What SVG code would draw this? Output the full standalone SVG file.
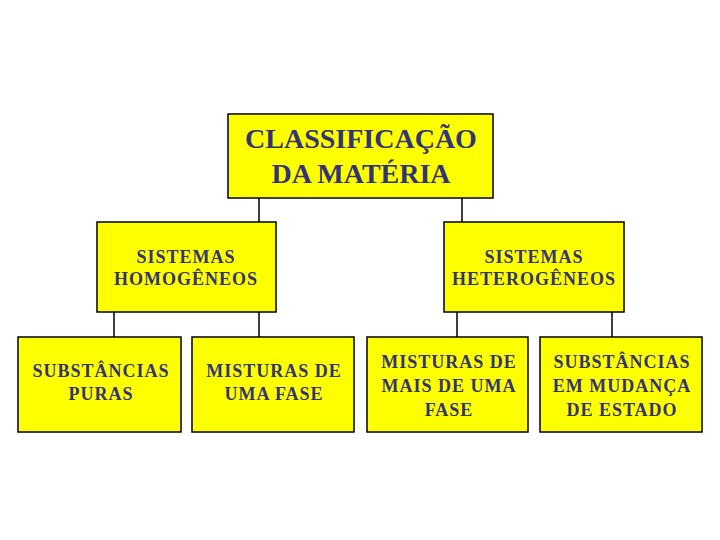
<svg xmlns="http://www.w3.org/2000/svg" width="720" height="540" viewBox="0 0 720 540">
<style>
.box{fill:#ffff00;stroke:#000;stroke-width:1.5}
.t{font-family:"Liberation Serif","Times New Roman",serif;font-weight:bold;fill:#333377;text-anchor:middle}
.big{font-size:28px}
.sm{font-size:18px;letter-spacing:1px}
.c{stroke:#000;stroke-width:1.5;fill:none}
</style>
<rect width="720" height="540" fill="#fff"/>
<g id="connectors">
<path class="c" d="M259 198V222M462 198V222M114 312V337M259 312V337M457 312V337M612 312V337"/>
</g>
<g id="n-root">
<rect class="box" x="228" y="114" width="265" height="84"/>
<text class="t big" x="361" y="148">CLASSIFICAÇÃO</text>
<text class="t big" x="361" y="183">DA MATÉRIA</text>
</g>
<g id="n-homog">
<rect class="box" x="97" y="222" width="179" height="90"/>
<text class="t sm" x="186" y="263">SISTEMAS</text>
<text class="t sm" x="186" y="285">HOMOGÊNEOS</text>
</g>
<g id="n-heterog">
<rect class="box" x="444" y="222" width="180" height="90"/>
<text class="t sm" x="534" y="263">SISTEMAS</text>
<text class="t sm" x="534" y="285">HETEROGÊNEOS</text>
</g>
<g id="n-puras">
<rect class="box" x="18" y="337" width="163" height="95"/>
<text class="t sm" x="101" y="377">SUBSTÂNCIAS</text>
<text class="t sm" x="101" y="400">PURAS</text>
</g>
<g id="n-uma">
<rect class="box" x="192" y="337" width="162" height="95"/>
<text class="t sm" x="274" y="377">MISTURAS DE</text>
<text class="t sm" x="274" y="400">UMA FASE</text>
</g>
<g id="n-mais">
<rect class="box" x="367" y="337" width="161" height="95"/>
<text class="t sm" x="449" y="368">MISTURAS DE</text>
<text class="t sm" x="449" y="392">MAIS DE UMA</text>
<text class="t sm" x="449" y="416">FASE</text>
</g>
<g id="n-mudanca">
<rect class="box" x="540" y="337" width="162" height="95"/>
<text class="t sm" x="622" y="368">SUBSTÂNCIAS</text>
<text class="t sm" x="622" y="392">EM MUDANÇA</text>
<text class="t sm" x="622" y="416">DE ESTADO</text>
</g>
</svg>
